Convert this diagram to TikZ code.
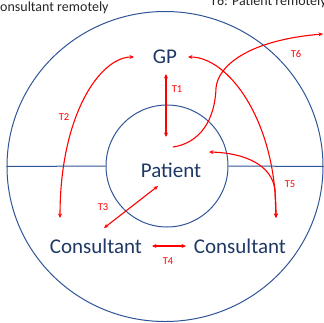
\documentclass[tikz,border=0pt]{standalone}
\usepackage{fontspec}
\setmainfont{Carlito}
\usetikzlibrary{arrows.meta,positioning,shapes.geometric}
\definecolor{ringBlue}{HTML}{2F5597}
\definecolor{navy}{HTML}{1F3864}
\tikzset{
    >={Stealth[length=4.5pt,width=4pt]},
    bigRole/.style={
           text=navy,
           font=\fontsize{21}{24}\selectfont,
           inner sep=1pt},
    ring/.style={
           draw=ringBlue,
           line width=1pt},
    tLabel/.style={
           text=red,
           font=\fontsize{10.5}{12}\selectfont,
           inner sep=1pt},
    note/.style={
           text=black!85,
           font=\fontsize{14}{16}\selectfont,
           inner sep=0pt},
    pfeil/.style={
           <->,
           draw=red,
           line width=1.1pt}
}
\begin{document}
\begin{tikzpicture}[x=1pt,y=-1pt]
	\useasboundingbox (0,0) rectangle (324,322);
	\clip (0,0) rectangle (324,322);
	% rings
	\node[ring, ellipse, minimum width=316pt, minimum height=310pt] (outer) at (165,166.5) {};
	\node[ring, circle, minimum size=122pt] (inner) at (167,166) {};
	\draw[ring] (outer.west) -- (inner.west);
	\draw[ring] (inner.east) -- (outer.east);
	% roles
	\node[bigRole] (gp) at (165,57) {GP};
	\node[bigRole] (patient) at (171,170) {Patient};
	\node[bigRole] (consL) at (96,246) {Consultant};
	\node[bigRole] (consR) at (240,246) {Consultant};
	\node[note, anchor=base west] (noteL) at (0,11) {onsultant remotely};
	\node[note, anchor=base west] (noteR) at (210,5) {T6: Patient remotely};
	\coordinate (t6end) at (323,34);
	% transitions
	\draw[pfeil] ([shift={(1,17)}]gp.center) -- ([shift={(-5,-33)}]patient.center);
	\draw[pfeil] ([shift={(-31,0)}]gp.center) .. controls (100,57) and (60,115) .. ([shift={(-36,-28)}]consL.center);
	\draw[pfeil] ([shift={(23,0)}]gp.center) .. controls (228,57) and (276,120) .. ([shift={(36,-28)}]consR.center);
	\draw[pfeil] ([shift={(36,-28)}]consR.center) -- (275,190) .. controls (272,165) and (245,153) .. ([shift={(38,-18)}]patient.center);
	\draw[pfeil] ([shift={(8,-18)}]consL.center) -- ([shift={(-13,16)}]patient.center);
	\draw[pfeil] ([shift={(56,0)}]consL.center) -- ([shift={(-54,0)}]consR.center);
	\draw[pfeil, <-] (t6end) .. controls (250,40) and (218,65) .. (216,88) .. controls (215,120) and (200,143) .. ([shift={(2,-23)}]patient.center);
	% labels
	\node[tLabel] (l1) at (177,89) {T1};
	\node[tLabel] (l2) at (64,117) {T2};
	\node[tLabel] (l3) at (103,207) {T3};
	\node[tLabel] (l4) at (168,261) {T4};
	\node[tLabel] (l5) at (290,184) {T5};
	\node[tLabel] (l6) at (296,54) {T6};
\end{tikzpicture}
\end{document}
